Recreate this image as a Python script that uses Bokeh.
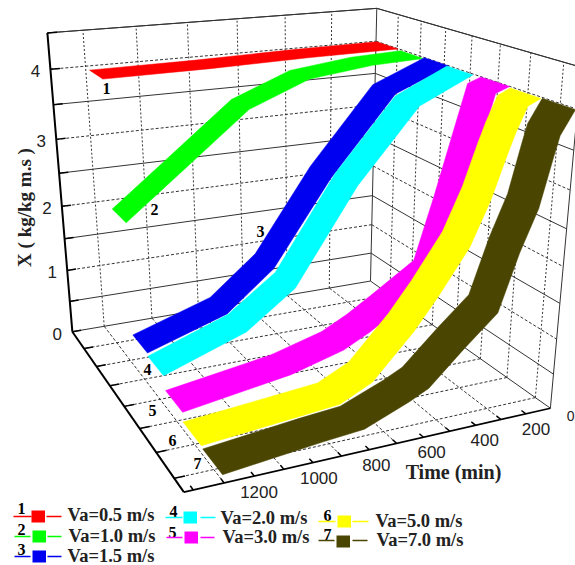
import numpy as np
from bokeh.plotting import figure
from bokeh.embed import file_html
from bokeh.resources import INLINE
from bokeh.core.properties import value

names=["Va=0.5 m/s","Va=1.0 m/s","Va=1.5 m/s","Va=2.0 m/s","Va=3.0 m/s","Va=5.0 m/s","Va=7.0 m/s"]
colors=["#ff0000","#00ff00","#0000f0","#00ffff","#ff00ff","#ffff00","#4a4500"]
lanes=[(0,1),(1,2),(2,3),(3,4),(4.3,5.3),(5.3,6.3),(6.3,7.3)]
t1=[1186,780,375,-4];        x1=[3.94,3.95,3.98,3.99]
t2=[1183,931,700,460,201,-15]; x2=[2.08,2.81,3.48,3.82,3.93,3.96]
t3=[1184,874,686,457,199,-20]; x3=[.39,.77,1.34,2.55,3.65,3.97]
t4=[1183,870,680,438,200,-12]; x4=[.34,.76,1.28,2.62,3.62,3.97]
t5=[1195,800,600,500,405,231,159,42,-12]; x5=[.22,.45,.66,.85,1.07,1.49,2.37,3.91,3.98]
t6=[1195,840,700,580,427,340,225,154,102,74,34,-15]; x6=[.08,.2,.25,.47,1.08,1.5,2.12,2.71,3.27,3.55,3.88,3.96]
t7=[1191,850,700,537,467,335,218,150,89,48,30,-20]; x7=[.03,.17,.22,.47,.6,1.07,1.46,2.22,2.77,3.40,3.66,3.96]
times=[t1,t2,t3,t4,t5,t6,t7]; vals=[x1,x2,x3,x4,x5,x6,x7]
time_ticks=[200,400,600,800,1000,1200]
z_ticks=[0,1,2,3,4]

T,S,Z=1330.,7.5,4.5
cal=[((T,0,0),(72,332)),((T,0,Z),(47,32)),((0,0,0),(370,280)),((0,0,Z),(376,8)),((0,S,0),(550,408)),((0,S,Z),(581,67)),((T,S,0),(183,491))]
A=[]
for (t,s,z),(x,y) in cal:
    X=[t/T,s/S,z/Z,1]
    A.append(X+[0]*4+[-x*c for c in X]); A.append([0]*4+X+[-y*c for c in X])
P=np.linalg.svd(np.array(A))[2][-1].reshape(3,4)
def pr(t,s,z):
    t=np.asarray(t,float);s=np.asarray(s,float);z=np.asarray(z,float)
    h=P@np.array([t/T,s/S,z/Z,np.ones_like(t)])
    return h[0]/h[2],h[1]/h[2]

W,H=575,565
p=figure(width=W,height=H,x_range=(0,W),y_range=(H,0),output_backend="svg",toolbar_location=None,min_border=0)
p.axis.visible=False;p.grid.visible=False;p.outline_line_color=None
def ln(a,b,dash="solid",w=1,c="#333333"):
    x,y=pr(*zip(a,b)); p.line(x,y,line_dash=dash,line_width=w,line_color=c)
for z in np.arange(0.5,4.6,0.5):
    d="3 2" if z==int(z) else "solid"
    ln((T,0,z),(0,0,z),d); ln((0,0,z),(0,S,z),d)
for t in time_ticks:
    ln((t,0,0),(t,0,Z),"2 2"); ln((t,0,0),(t,S,0),"3 2")
for s in range(1,8):
    ln((0,s,0),(0,s,Z),"2 2"); ln((0,s,0),(T,s,0),"3 2")
ln((T,0,Z),(0,0,Z));ln((0,0,Z),(0,S,Z));ln((0,0,Z),(0,0,0));ln((0,S,0),(0,S,Z));ln((T,0,0),(0,0,0));ln((0,0,0),(0,S,0))
ln((T,0,0),(T,0,Z),w=2,c="black"); ln((T,0,0),(T,S,0),w=2,c="black"); ln((T,S,0),(0,S,0),w=1.7,c="black")
for t in range(100,1301,100):
    ln((t,S,0),(t,S-.15,0),w=1.5,c="black")
for s in range(1,8):
    ln((T,s,0),(T-35,s,0),w=1.5,c="black")
for z in np.arange(0,4.6,0.5):
    ln((T,0,z),(T-35,0,z),w=1.5,c="black")
for (a,b),ts,xs,c in zip(lanes,times,vals,colors):
    xa,ya=pr(ts,[a]*len(ts),xs); xb,yb=pr(ts,[b]*len(ts),xs)
    p.patch(list(xa)+list(xb[::-1]),list(ya)+list(yb[::-1]),fill_color=c,line_color=c,line_width=.5)

sans=value("Liberation Sans"); serif=value("Liberation Serif")
def txt(x,y,s,size,font=sans,style="normal",align="center",angle=0,color="#222222"):
    p.text([x],[y],text=[s],text_font=font,text_font_size=size,text_font_style=style,text_align=align,text_baseline="middle",angle=angle,angle_units="deg",text_color=color)
tx,ty=pr(time_ticks,[S]*6,[0]*6)
for x,y,l in zip(tx,ty,time_ticks):
    txt(x+35,y+9,str(l),"17px")
zx,zy=pr([T]*5,[0]*5,z_ticks)
for x,y,l in zip(zx,zy,z_ticks):
    txt(x-15,y+2,str(l),"17px")
txt(574,415,"0","14px",align="right")
txt(453,471,"Time (min)","20px",serif,"bold")
txt(24,207,"X ( kg/kg m.s )","19px",serif,"bold",angle=90)
labels=[("1",106,88),("2",154,209),("3",260,231),("4",147,369),("5",152,410),("6",172,440),("7",197,463)]
for l,x,y in labels:
    txt(x,y,l,"16px",serif,"bold",color="black")
leg=[(21,508,13,31,516,31,510,46,61,67,514),(21,529,14,30,536,32,530,47,61,68,535),(21,549,14,30,556,32,550,47,61,67,555),
     (173,511,165,182,517,183,511,200,215,220,517),(172,532,166,182,537,184,531,200,214,222,536),(327,515,318,335,521,337,515,352,368,375,520),(327,534,318,334,540,336,535,352,367,376,539)]
for i,(nx,ny,a,b,ly,sx,sy,c,d,tx_,ty_) in enumerate(leg):
    col=colors[i]
    txt(nx,ny,str(i+1),"16px",serif,"bold",color="black")
    p.line([a,b],[ly,ly],line_color=col,line_width=1.5)
    p.line([c,d],[ly,ly],line_color=col,line_width=1.5)
    p.quad(left=sx,right=sx+13.5,top=sy,bottom=sy+12,fill_color=col,line_color=None)
    txt(tx_,ty_,names[i],"18.5px",serif,"bold",align="left")
open("out.html","w").write(file_html(p,INLINE))
